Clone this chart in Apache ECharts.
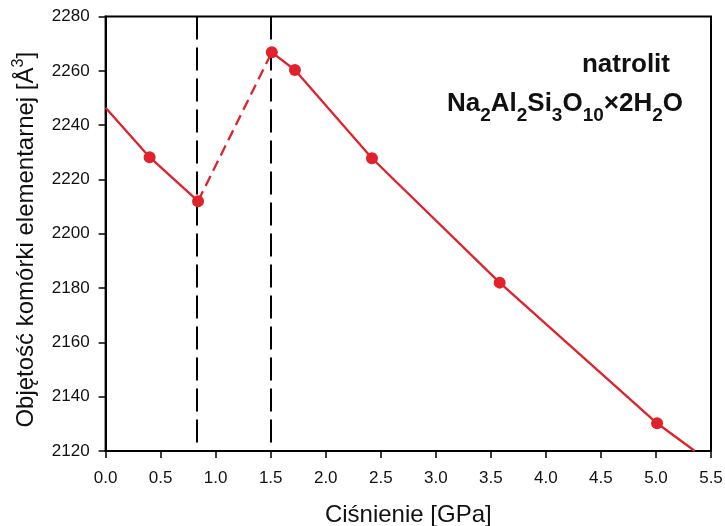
<!DOCTYPE html>
<html>
<head>
<meta charset="utf-8">
<script src="https://cdn.jsdelivr.net/npm/echarts@6/dist/echarts.min.js"></script>
<style>
html,body{margin:0;padding:0;background:#ffffff;}
#chart{width:725px;height:526px;}
</style>
</head>
<body>
<div id="chart"></div>
<script>
// ---- data ----
const xTicks = [0.0, 0.5, 1.0, 1.5, 2.0, 2.5, 3.0, 3.5, 4.0, 4.5, 5.0, 5.5];
const yTicks = [2120, 2140, 2160, 2180, 2200, 2220, 2240, 2260, 2280];

// measured points (pressure GPa, cell volume A^3)
const measuredP = [0.40, 0.84, 1.51, 1.72, 2.42, 3.58, 5.01];
const measuredV = [2228.2, 2212.0, 2266.8, 2260.3, 2227.8, 2182.0, 2130.2];

// low-pressure fitted line (solid)
const lowP = [0.0, 0.40, 0.84];
const lowV = [2246.4, 2228.2, 2212.0];

// transition segment (dashed)
const transP = [0.84, 1.51];
const transV = [2212.0, 2266.8];

// high-pressure fitted line (solid)
const highP = [1.51, 1.72, 2.42, 3.58, 5.01, 5.353];
const highV = [2266.8, 2260.3, 2227.8, 2182.0, 2130.2, 2120.0];

// phase boundaries (vertical dashed lines)
const boundaryP = [0.827, 1.5];

const RED = '#e0232b';
const FONT = 'Liberation Sans';
const Y_MIN = yTicks[0], Y_MAX = yTicks[yTicks.length - 1];

function zip(a, b) { return a.map((v, i) => [v, b[i]]); }

const chart = echarts.init(document.getElementById('chart'), null, {renderer: 'canvas'});

const option = {
  backgroundColor: '#ffffff',
  animation: false,
  grid: {
    left: 105.6, right: 14, top: 16.5, bottom: 75,
    outerBoundsMode: 'none', containLabel: false,
    show: true, borderColor: '#000', borderWidth: 2, backgroundColor: 'transparent'
  },
  xAxis: {
    type: 'value',
    min: xTicks[0], max: xTicks[xTicks.length - 1], interval: 0.5,
    name: 'Ciśnienie [GPa]',
    nameLocation: 'middle', nameGap: 52,
    nameTextStyle: {fontFamily: FONT, fontSize: 24, color: '#111'},
    axisLine: {show: true, lineStyle: {color: '#000', width: 2}},
    axisTick: {show: true, inside: false, length: 7, lineStyle: {color: '#000', width: 1.5}},
    axisLabel: {margin: 19, fontFamily: FONT, fontSize: 17, color: '#111',
      formatter: v => v.toFixed(1)},
    splitLine: {show: false}
  },
  yAxis: {
    type: 'value',
    min: Y_MIN, max: Y_MAX, interval: 20,
    name: 'Objętość komórki elementarnej [Å{sup|3}]',
    nameLocation: 'middle', nameGap: 62, nameRotate: 90,
    nameTextStyle: {fontFamily: FONT, fontSize: 24, color: '#111', lineHeight: 30,
      padding: [0, 12, 0, 0],
      rich: {sup: {fontFamily: FONT, fontSize: 16, color: '#111', lineHeight: 12, verticalAlign: 'top'}}},
    axisLine: {show: true, lineStyle: {color: '#000', width: 2}},
    axisTick: {show: true, inside: false, length: 7, lineStyle: {color: '#000', width: 1.5}},
    axisLabel: {margin: 16, fontFamily: FONT, fontSize: 17, color: '#111',
      formatter: v => String(v)},
    splitLine: {show: false}
  },
  series: [
    {
      type: 'line', data: zip(lowP, lowV), symbol: 'none', silent: true,
      lineStyle: {color: RED, width: 2.3}, z: 3
    },
    {
      type: 'line', data: zip(transP, transV), symbol: 'none', silent: true,
      lineStyle: {color: RED, width: 2.3, type: [11, 6]}, z: 3
    },
    {
      type: 'line', data: zip(highP, highV), symbol: 'none', silent: true, clip: true,
      lineStyle: {color: RED, width: 2.3}, z: 3,
      markLine: {
        silent: true, symbol: ['none', 'none'], label: {show: false},
        lineStyle: {color: '#000', width: 2, type: [23, 8]},
        data: boundaryP.map(p => [{coord: [p, Y_MAX]}, {coord: [p, Y_MIN]}])
      }
    },
    {
      type: 'scatter', data: zip(measuredP, measuredV), symbol: 'circle', symbolSize: 12,
      itemStyle: {color: RED, opacity: 1}, z: 5, silent: true
    }
  ],
  graphic: [
    {
      type: 'text', silent: true,
      style: {
        text: 'natrolit', x: 670, y: 65, align: 'right', verticalAlign: 'middle',
        fontFamily: FONT, fontSize: 26, fontWeight: 'bold', fill: '#111'
      }
    },
    {
      type: 'text', silent: true,
      style: {
        text: '{m|Na}{s|2}{m|Al}{s|2}{m|Si}{s|3}{m|O}{s|10}{m|×2H}{s|2}{m|O}',
        x: 683, y: 91.3, align: 'right', verticalAlign: 'top',
        rich: {
          m: {fontFamily: FONT, fontSize: 26, fontWeight: 'bold', fill: '#111', lineHeight: 26, verticalAlign: 'top'},
          s: {fontFamily: FONT, fontSize: 19, fontWeight: 'bold', fill: '#111', lineHeight: 34, verticalAlign: 'bottom'}
        }
      }
    }
  ]
};

chart.setOption(option);
</script>
</body>
</html>
